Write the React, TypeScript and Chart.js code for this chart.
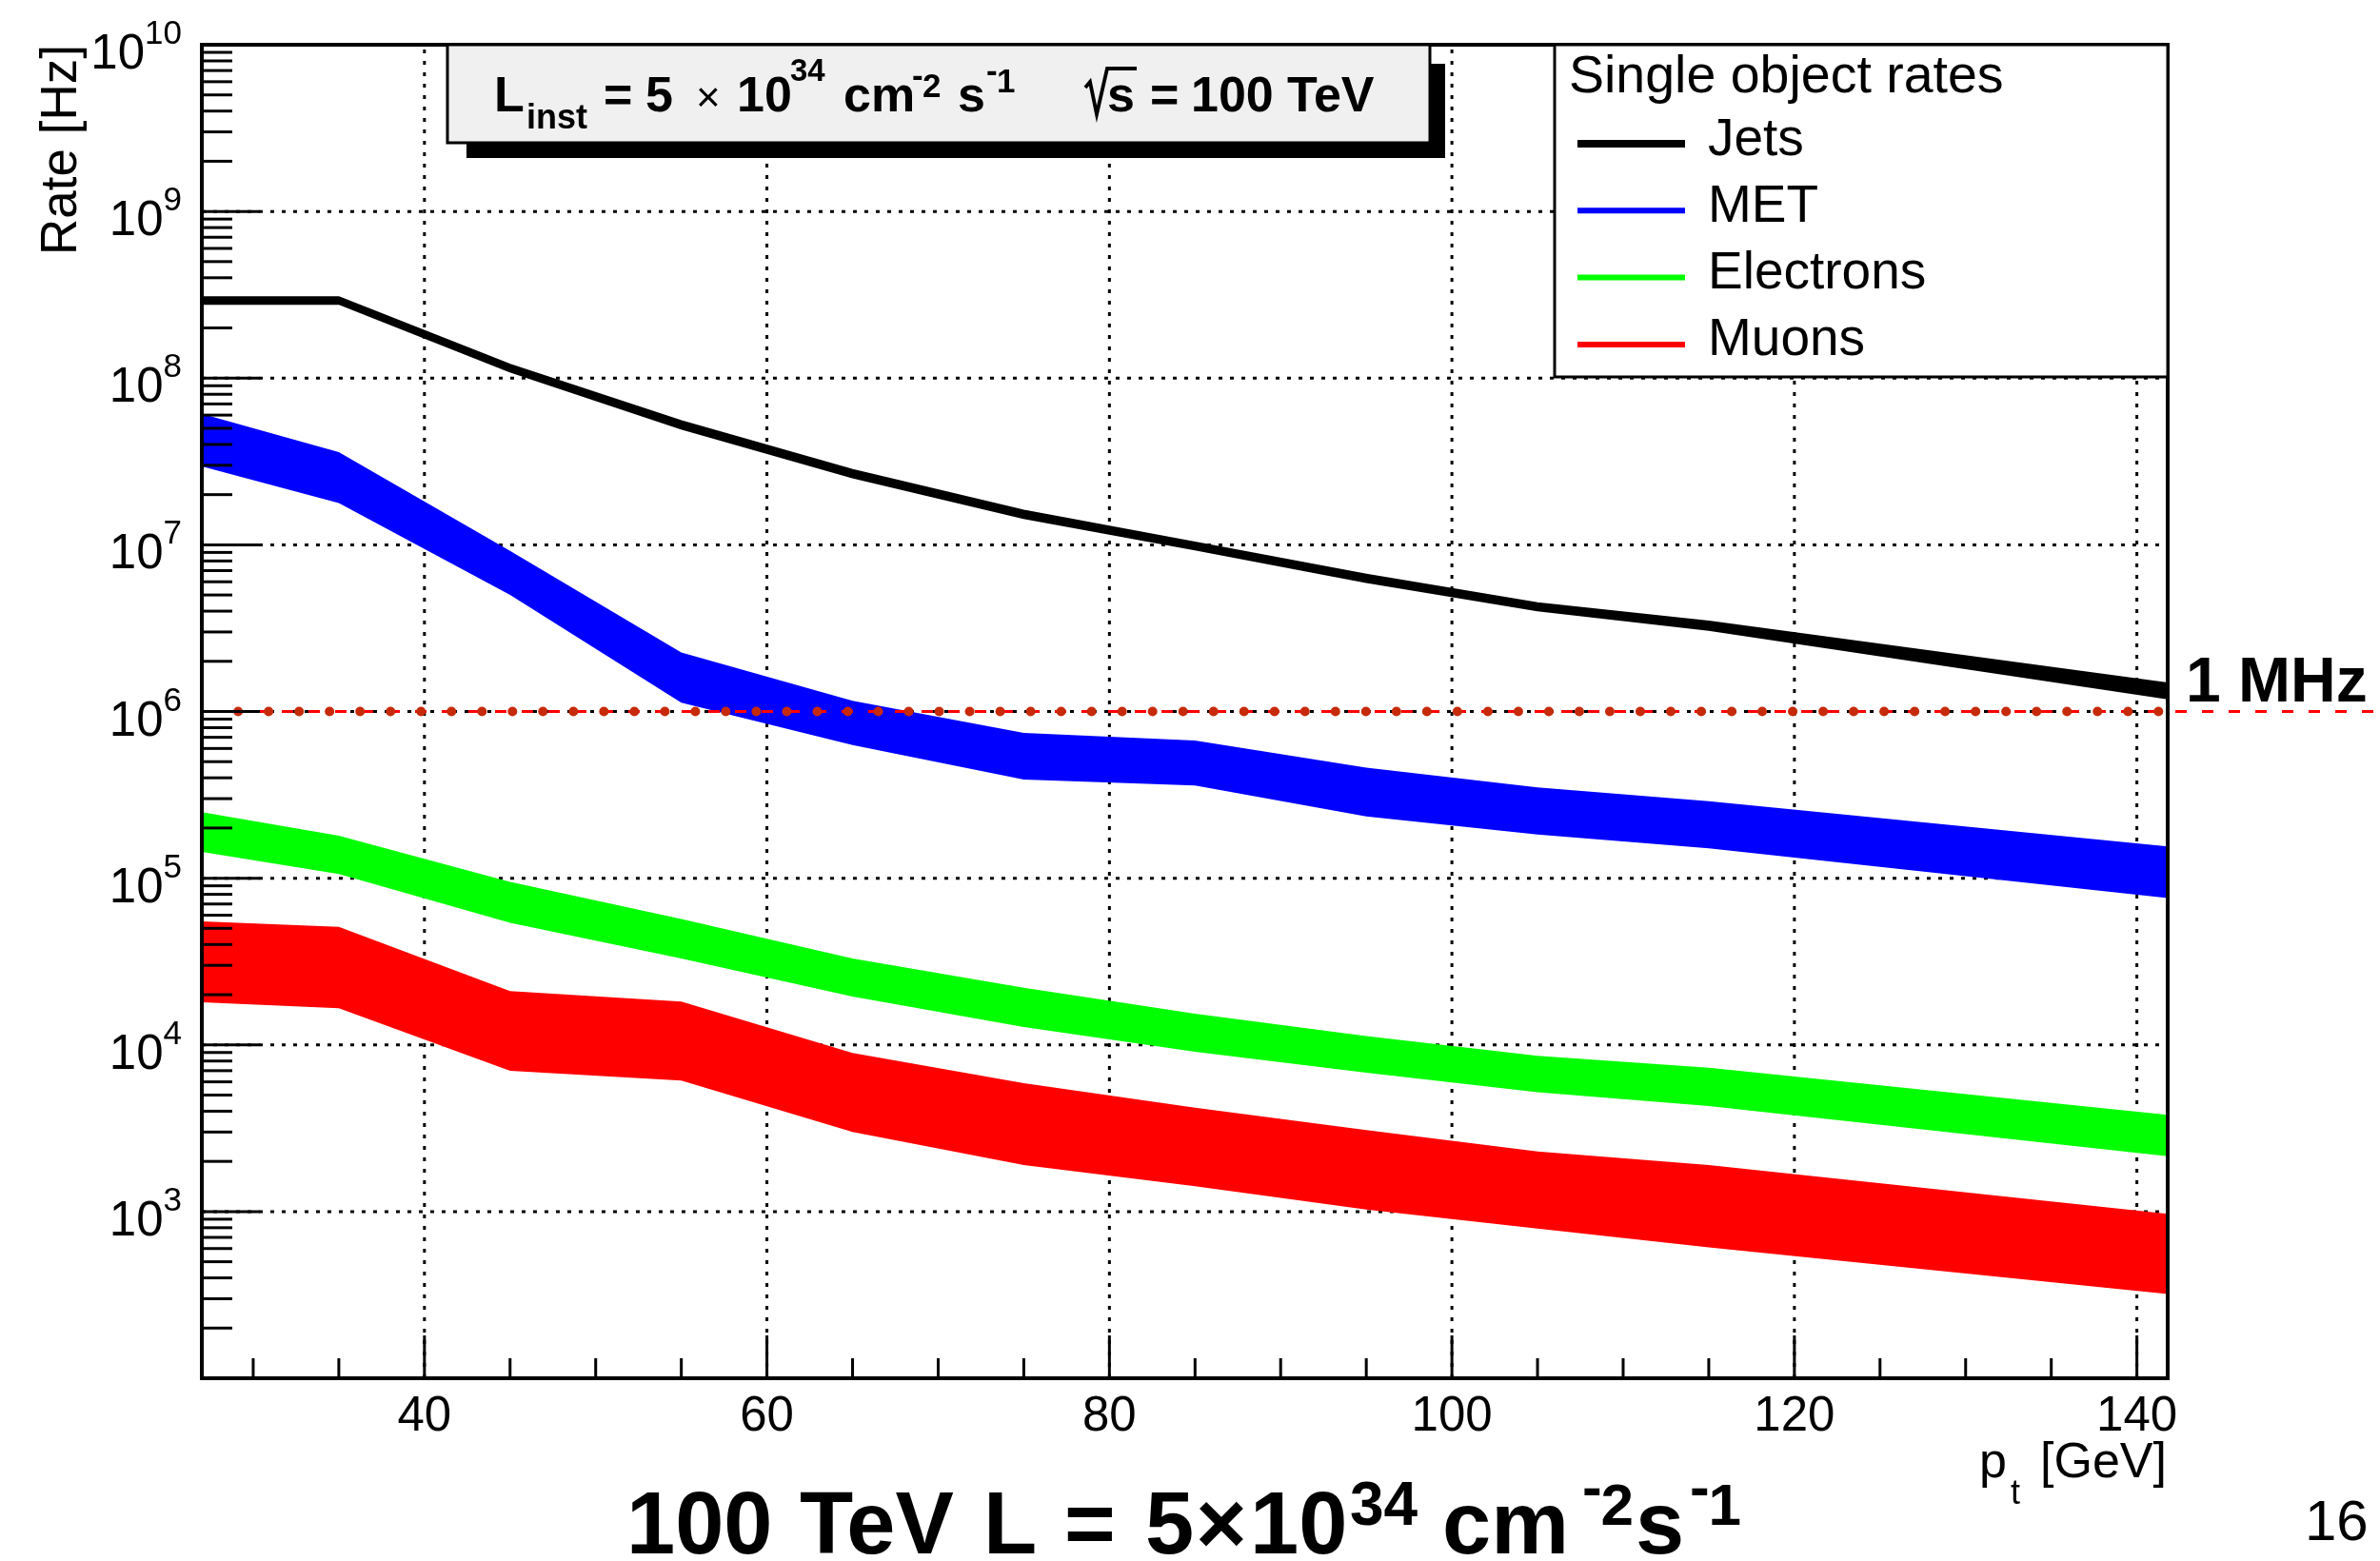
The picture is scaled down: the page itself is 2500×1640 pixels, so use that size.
import React, { useEffect, useRef } from "react";
import { Chart, registerables } from "chart.js";

Chart.register(...registerables);

// ---------------- data ----------------
const X_MIN = 27;
const X_MAX = 141.8;
const Y_MIN = 1e2;
const Y_MAX = 1e10;

const ptValues = [27, 35, 45, 55, 65, 75, 85, 95, 105, 115, 141.8];

const jetsHigh = [3.05e8, 3.05e8, 1.2e8, 5.5e7, 2.8e7, 1.6e7, 1.03e7, 6.6e6, 4.45e6, 3.45e6, 1.47e6];
const jetsLow = [2.8e8, 2.8e8, 1.1e8, 5.0e7, 2.55e7, 1.45e7, 9.4e6, 6.0e6, 4.05e6, 3.1e6, 1.2e6];

const metHigh = [6.1e7, 3.6e7, 9.2e6, 2.26e6, 1.16e6, 7.45e5, 6.7e5, 4.6e5, 3.5e5, 2.9e5, 1.55e5];
const metLow = [2.95e7, 1.78e7, 5.0e6, 1.13e6, 6.3e5, 3.9e5, 3.6e5, 2.35e5, 1.83e5, 1.51e5, 7.6e4];

const eleHigh = [2.49e5, 1.8e5, 9.5e4, 5.7e4, 3.3e4, 2.2e4, 1.54e4, 1.13e4, 8.6e3, 7.3e3, 3.8e3];
const eleLow = [1.44e5, 1.06e5, 5.4e4, 3.3e4, 1.95e4, 1.28e4, 9.1e3, 6.8e3, 5.2e3, 4.3e3, 2.15e3];

const muHigh = [5.5e4, 5.1e4, 2.1e4, 1.82e4, 8.95e3, 5.9e3, 4.2e3, 3.08e3, 2.29e3, 1.9e3, 9.7e2];
const muLow = [1.8e4, 1.66e4, 7.0e3, 6.1e3, 3.0e3, 1.9e3, 1.42e3, 1.03e3, 7.9e2, 6.1e2, 3.2e2];

const rateThreshold = 1e6;
const thresholdMarkers = [
  29.12, 30.9, 32.68, 34.46, 36.24, 38.02, 39.8, 41.58, 43.36, 45.14, 46.92, 48.7, 50.48, 52.26,
  54.04, 55.82, 57.6, 59.38, 61.16, 62.94, 64.72, 66.5, 68.28, 70.06, 71.84, 73.62, 75.4, 77.18,
  78.96, 80.74, 82.52, 84.3, 86.08, 87.86, 89.64, 91.42, 93.2, 94.98, 96.76, 98.54, 100.32, 102.1,
  103.88, 105.66, 107.44, 109.22, 111.0, 112.78, 114.56, 116.34, 118.12, 119.9, 121.68, 123.46,
  125.24, 127.02, 128.8, 130.58, 132.36, 134.14, 135.92, 137.7, 139.48, 141.26,
];

const xMajorTicks = [40, 60, 80, 100, 120, 140];
const xMinorTicks = [30, 35, 45, 50, 55, 65, 70, 75, 85, 90, 95, 105, 110, 115, 125, 130, 135];
const yLabelExponents = [3, 4, 5, 6, 7, 8, 9, 10];
const yGridExponents = [3, 4, 5, 6, 7, 8, 9];
const yTickExponents = [2, 3, 4, 5, 6, 7, 8, 9];

const legendTitle = "Single object rates";
const legendNames = ["Jets", "MET", "Electrons", "Muons"];
const legendColors = ["#000000", "#0000FF", "#00FF00", "#FF0000"];

const FONT = '"Liberation Sans", Arial, Helvetica, sans-serif';

function setFont(ctx: CanvasRenderingContext2D, size: number, bold = false) {
  ctx.font = `${bold ? "bold " : ""}${size}px ${FONT}`;
}
function text(
  ctx: CanvasRenderingContext2D,
  s: string,
  x: number,
  y: number,
  size: number,
  bold = false,
  align: CanvasTextAlign = "left"
) {
  setFont(ctx, size, bold);
  ctx.textAlign = align;
  ctx.textBaseline = "alphabetic";
  ctx.fillStyle = "#000";
  ctx.fillText(s, x, y);
}
// superscript of the form "-N" where the minus sits high, as in ROOT's TLatex
function negSup(ctx: CanvasRenderingContext2D, digit: string, x: number, y: number, size: number, bold: boolean) {
  setFont(ctx, size, bold);
  const hw = ctx.measureText("-").width;
  text(ctx, "-", x, y - size * 0.3, size, bold);
  text(ctx, digit, x + hw * 0.95, y, size, bold);
}
function seg(ctx: CanvasRenderingContext2D, x1: number, y1: number, x2: number, y2: number) {
  ctx.beginPath();
  ctx.moveTo(x1, y1);
  ctx.lineTo(x2, y2);
  ctx.stroke();
}

const rootStyle = {
  id: "rootStyle",
  beforeDatasetsDraw(chart: any) {
    const { ctx, chartArea: a, scales } = chart;
    const xs = scales.x;
    const ys = scales.y;
    ctx.save();
    ctx.strokeStyle = "#000";
    ctx.lineWidth = 3;
    ctx.setLineDash([4, 8]);
    for (const v of xMajorTicks) {
      const px = xs.getPixelForValue(v);
      seg(ctx, px, a.bottom, px, a.top);
    }
    for (const e of yGridExponents) {
      const py = ys.getPixelForValue(Math.pow(10, e));
      seg(ctx, a.left, py, a.right, py);
    }
    ctx.restore();
  },
  afterDraw(chart: any) {
    const { ctx, chartArea: a, scales } = chart;
    const xs = scales.x;
    const ys = scales.y;
    ctx.save();

    // 1 MHz line continues outside the frame
    const y1 = ys.getPixelForValue(rateThreshold);
    ctx.strokeStyle = "#FF0000";
    ctx.lineWidth = 3;
    ctx.setLineDash([12, 16]);
    seg(ctx, a.right + 8, y1, chart.width, y1);
    ctx.setLineDash([]);
    text(ctx, "1 MHz", 2296, 737, 66, true);

    // frame
    ctx.strokeStyle = "#000";
    ctx.lineWidth = 4;
    ctx.strokeRect(a.left, a.top, a.right - a.left, a.bottom - a.top);

    // y ticks
    ctx.lineWidth = 3;
    for (const e of yTickExponents) {
      for (let m = 1; m < 10; m++) {
        const py = ys.getPixelForValue(m * Math.pow(10, e));
        seg(ctx, a.left, py, a.left + (m === 1 ? 61 : 32), py);
      }
    }
    // x ticks
    for (const v of xMajorTicks) {
      const px = xs.getPixelForValue(v);
      seg(ctx, px, a.bottom, px, a.bottom - 45);
    }
    for (const v of xMinorTicks) {
      const px = xs.getPixelForValue(v);
      seg(ctx, px, a.bottom, px, a.bottom - 21);
    }

    // y labels 10^n
    for (const e of yLabelExponents) {
      const py = ys.getPixelForValue(Math.pow(10, e));
      setFont(ctx, 35);
      const ew = ctx.measureText(String(e)).width;
      text(ctx, String(e), 191, py - 1, 35, false, "right");
      text(ctx, "10", 191 - ew, py + 25, 51, false, "right");
    }
    // x labels
    for (const v of xMajorTicks) {
      text(ctx, String(v), xs.getPixelForValue(v), 1503, 51, false, "center");
    }

    // axis titles
    text(ctx, "[GeV]", 2276, 1552, 52, false, "right");
    text(ctx, "t", 2112, 1580, 36);
    text(ctx, "p", 2079, 1552, 52);
    ctx.save();
    ctx.translate(80, a.top);
    ctx.rotate(-Math.PI / 2);
    text(ctx, "Rate [Hz]", 0, 0, 53, false, "right");
    ctx.restore();

    // header pave
    ctx.fillStyle = "#000";
    ctx.fillRect(490, 67, 1518 - 490, 166 - 67);
    ctx.fillStyle = "#F0F0F0";
    ctx.fillRect(470, 47, 1502 - 470, 150 - 47);
    ctx.strokeStyle = "#000";
    ctx.lineWidth = 3;
    ctx.strokeRect(470, 47, 1502 - 470, 150 - 47);
    const hb = 117;
    text(ctx, "L", 519, hb, 52, true);
    text(ctx, "inst", 553, 135, 36, true);
    text(ctx, "=", 634, hb, 52, true);
    text(ctx, "5", 678, hb, 52, true);
    text(ctx, "\u00d7", 731, hb, 44, false);
    text(ctx, "10", 774, hb, 52, true);
    text(ctx, "34", 830, 85, 33, true);
    text(ctx, "cm", 886, hb, 52, true);
    negSup(ctx, "2", 958, 101.5, 35, true);
    text(ctx, "s", 1006, hb, 52, true);
    negSup(ctx, "1", 1036, 96.7, 35, true);
    ctx.lineWidth = 3.8;
    ctx.lineJoin = "miter";
    ctx.beginPath();
    ctx.moveTo(1140, 92);
    ctx.lineTo(1145, 86);
    ctx.lineTo(1152, 120);
    ctx.lineTo(1163, 72);
    ctx.lineTo(1194, 72);
    ctx.stroke();
    text(ctx, "s", 1163, hb, 52, true);
    text(ctx, "=", 1208, hb, 52, true);
    text(ctx, "100", 1251, hb, 52, true);
    text(ctx, "TeV", 1352, hb, 52, true);

    // legend
    ctx.fillStyle = "#fff";
    ctx.fillRect(1633, 47, 2277 - 1633, 396 - 47);
    ctx.strokeStyle = "#000";
    ctx.lineWidth = 3;
    ctx.strokeRect(1633, 47, 2277 - 1633, 396 - 47);
    text(ctx, legendTitle, 1648, 97, 55.5);
    legendNames.forEach((name, i) => {
      const ly = 151 + i * 70.3;
      ctx.strokeStyle = legendColors[i];
      ctx.lineWidth = i === 0 ? 8 : 6;
      seg(ctx, 1657, ly, 1770, ly);
      text(ctx, name, 1794, 163 + i * 70, 55);
    });

    // bottom title
    const bb = 1632;
    const bs = 1602;
    text(ctx, "100", 658, bb, 92, true);
    text(ctx, "TeV", 840, bb, 92, true);
    text(ctx, "L", 1033, bb, 92, true);
    text(ctx, "=", 1118, bb, 92, true);
    text(ctx, "5", 1203, bb, 92, true);
    text(ctx, "\u00d7", 1256, bb, 92, true);
    text(ctx, "10", 1313, bb, 92, true);
    text(ctx, "34", 1418, bs, 64, true);
    text(ctx, "cm", 1515, bb, 92, true);
    negSup(ctx, "2", 1662, bs, 62, true);
    text(ctx, "s", 1718, bb, 92, true);
    negSup(ctx, "1", 1775, bs, 62, true);

    text(ctx, "16", 2421, 1618, 60);
    ctx.restore();
  },
};

const clear = "rgba(0,0,0,0)";
function pts(vals: number[]) {
  return ptValues.map((x, i) => ({ x, y: vals[i] }));
}
function band(label: string, hi: number[], lo: number[], color: string, order: number, edge = 0) {
  return [
    {
      label,
      data: pts(hi),
      borderColor: edge ? color : clear,
      borderWidth: edge,
      backgroundColor: color,
      fill: "+1",
      pointRadius: 0,
      tension: 0,
      order,
    },
    {
      label: label + " low",
      data: pts(lo),
      borderColor: edge ? color : clear,
      borderWidth: edge,
      backgroundColor: color,
      fill: false,
      pointRadius: 0,
      tension: 0,
      order: order - 0.5,
    },
  ];
}

export default function App() {
  const ref = useRef<HTMLCanvasElement>(null);
  useEffect(() => {
    const canvas = ref.current;
    if (!canvas) return;
    const chart = new Chart(canvas, {
      type: "line",
      data: {
        datasets: [
          ...band("Muons", muHigh, muLow, "#FF0000", 9),
          ...band("Electrons", eleHigh, eleLow, "#00FF00", 8),
          ...band("MET", metHigh, metLow, "#0000FF", 7),
          ...band("Jets", jetsHigh, jetsLow, "#000000", 6, 2.5),
          {
            label: "1 MHz",
            data: [
              { x: X_MIN, y: rateThreshold },
              { x: X_MAX, y: rateThreshold },
            ],
            borderColor: "#FF0000",
            borderWidth: 3,
            borderDash: [12, 16],
            pointRadius: 0,
            fill: false,
            order: 2,
          },
          {
            label: "1 MHz markers",
            data: thresholdMarkers.map((x) => ({ x, y: rateThreshold })),
            showLine: false,
            pointRadius: 5,
            pointBackgroundColor: "#C62A0A",
            pointBorderColor: "#C62A0A",
            pointBorderWidth: 0,
            fill: false,
            order: 1,
          },
        ] as any,
      },
      options: {
        animation: false,
        responsive: false,
        devicePixelRatio: 1,
        events: [],
        layout: { padding: { left: 212, top: 47, right: 223, bottom: 192 } },
        plugins: { legend: { display: false }, tooltip: { enabled: false }, title: { display: false } },
        scales: {
          x: { type: "linear", min: X_MIN, max: X_MAX, display: false },
          y: { type: "logarithmic", min: Y_MIN, max: Y_MAX, display: false },
        },
      },
      plugins: [rootStyle],
    });
    return () => chart.destroy();
  }, []);
  return (
    <div style={{ position: "absolute", left: 0, top: 0, width: 2500, height: 1640, background: "#fff" }}>
      <canvas ref={ref} width={2500} height={1640} style={{ display: "block", width: 2500, height: 1640 }} />
    </div>
  );
}
